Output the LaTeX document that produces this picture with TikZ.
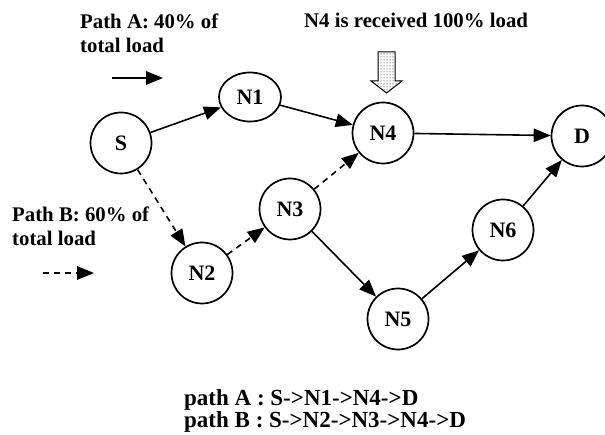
\documentclass[tikz,border=0pt]{standalone}
\usepackage{fontspec}
\setmainfont{Liberation Serif}
\usetikzlibrary{arrows.meta,shapes.geometric,patterns}
\tikzset{
    % Define style for the network nodes
    stn/.style={
           circle,
           draw=black, line width=1.7pt,
           minimum size=61pt,
           inner sep=0pt,
           font=\fontsize{22}{24}\selectfont\bfseries},
    % Define arrow styles
    fwd/.style={
           -{Triangle[length=17pt,width=13.5pt]},
           line width=1.6pt},
    alt/.style={
           fwd,
           dash pattern=on 6pt off 5pt},
    % Define style for the free texts
    lbl/.style={
           anchor=base west,
           inner sep=0pt,
           align=left,
           font=\fontsize{20.8}{24}\selectfont\bfseries}
}

\begin{document}
\begin{tikzpicture}[x=1pt,y=-1pt]
\useasboundingbox (0,0) rectangle (605,435);

% Nodes of the network
\node[stn] (s) at (121,143) {S};
\node[stn,ellipse,minimum width=62pt,minimum height=49pt] (n1) at (250,97) {N1};
\node[stn] (n2) at (202,273) {N2};
\node[stn] (n3) at (290,209) {N3};
\node[stn] (n4) at (383,133) {N4};
\node[stn] (n5) at (398,319) {N5};
\node[stn] (n6) at (503,230) {N6};
\node[stn] (d) at (582,136) {D};

% Path A and the rest of the solid links
\draw[fwd] (s) -- (n1);
\draw[fwd] (n1) -- (n4);
\draw[fwd] (n4) -- (d);
\draw[fwd] (n3) -- (n5);
\draw[fwd] (n5) -- (n6);
\draw[fwd] (n6) -- (d);

% Path B
\draw[alt] (s) -- (n2);
\draw[alt] (n2) -- (n3);
\draw[alt] (n3) -- (n4);

% Legend (base of a two-line node is its last line)
\node[lbl] (pa) at (80,53) {Path A: 40\% of\\total load};
\coordinate (pa1) at (112,78);
\coordinate (pa2) at (163,78);
\draw[fwd] (pa1) -- (pa2);
\node[lbl] (pb) at (12,246) {Path B: 60\% of\\total load};
\coordinate (pb1) at (43,273);
\coordinate (pb2) at (94,273);
\draw[alt] (pb1) -- (pb2);

% Load note with the block arrow over N4
\node[lbl] (note) at (304,28) {N4 is received 100\% load};
\draw[line width=1pt,pattern=dots]
   (378,52) -- (395,52) -- (395,81) -- (402,81) -- (386.5,93)
   -- (371,81) -- (378,81) -- cycle;

% Summary of the two paths
\node[lbl,font=\fontsize{23}{21}\selectfont\bfseries] (sum) at (184,427)
   {path A : S->N1->N4->D\\path B : S->N2->N3->N4->D};
\end{tikzpicture}
\end{document}
